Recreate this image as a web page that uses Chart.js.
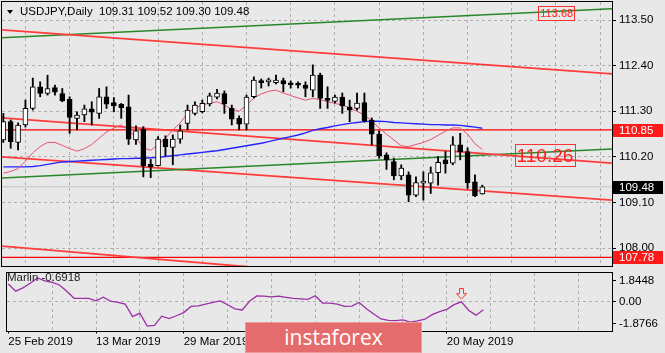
<!DOCTYPE html>
<html>
<head>
<meta charset="utf-8">
<script src="https://cdn.jsdelivr.net/npm/chart.js@4.4.0/dist/chart.umd.min.js"></script>
<style>
  body { margin: 0; background: #e8e8e8; width: 665px; height: 353px; overflow: hidden; position: relative;
         font-family: "Liberation Sans", Arial, sans-serif; }
  canvas { position: absolute; left: 0; }
  #main { top: 0; }
  #marlin { top: 266px; }
  #tri { position: absolute; left: 7px; top: 10px; width: 0; height: 0;
         border-left: 3.5px solid transparent; border-right: 3.5px solid transparent; border-top: 4px solid #000; }
  #title { position: absolute; left: 20px; top: 5px; font-size: 11.5px; color: #000; white-space: pre; }
  #mlabel { position: absolute; left: 7px; top: 271px; font-size: 11.5px; color: #222; white-space: pre; }
  #logo { position: absolute; left: 245px; top: 322px; width: 177px; height: 31px; box-sizing: border-box;
          background: #e46c6c; border: 1px solid #ee9a9a; color: #fff; text-align: center;
          font: 21px "Open Sans", sans-serif; line-height: 28px; }
</style>
</head>
<body>
<canvas id="main" width="665" height="268"></canvas>
<canvas id="marlin" width="665" height="87"></canvas>
<div id="tri"></div>
<div id="title">USDJPY,Daily  109.31 109.52 109.30 109.48</div>
<div id="mlabel">Marlin -0.6918</div>
<div id="logo">instaforex</div>
<script>
// daily bars, 25 Feb 2019 .. 27 May 2019
const days = [
  "25 Feb 2019","26 Feb 2019","27 Feb 2019","28 Feb 2019",
  "1 Mar 2019","4 Mar 2019","5 Mar 2019","6 Mar 2019","7 Mar 2019","8 Mar 2019","11 Mar 2019","12 Mar 2019",
  "13 Mar 2019","14 Mar 2019","15 Mar 2019","18 Mar 2019","19 Mar 2019","20 Mar 2019","21 Mar 2019","22 Mar 2019",
  "25 Mar 2019","26 Mar 2019","27 Mar 2019","28 Mar 2019","29 Mar 2019",
  "1 Apr 2019","2 Apr 2019","3 Apr 2019","4 Apr 2019","5 Apr 2019","8 Apr 2019","9 Apr 2019","10 Apr 2019",
  "11 Apr 2019","12 Apr 2019","15 Apr 2019","16 Apr 2019","17 Apr 2019","18 Apr 2019","19 Apr 2019","22 Apr 2019",
  "23 Apr 2019","24 Apr 2019","25 Apr 2019","26 Apr 2019","29 Apr 2019","30 Apr 2019",
  "1 May 2019","2 May 2019","3 May 2019","6 May 2019","7 May 2019","8 May 2019","9 May 2019","10 May 2019",
  "13 May 2019","14 May 2019","15 May 2019","16 May 2019","17 May 2019","20 May 2019","21 May 2019","22 May 2019",
  "23 May 2019","24 May 2019","27 May 2019"
];

const open = [110.61,111.05,110.55,110.97,111.37,111.89,111.73,111.87,111.73,111.59,111.13,111.21,111.36,111.25,111.65,111.51,
  111.47,111.41,110.61,110.87,110.02,109.99,110.63,110.43,110.63,111.01,111.25,111.29,111.48,111.64,111.73,111.37,
  111.13,110.99,111.65,112.00,112.01,111.99,112.04,111.95,111.94,111.93,111.81,112.17,111.61,111.54,111.64,111.41,
  111.37,111.51,111.09,110.75,110.25,110.09,109.74,109.77,109.28,109.57,109.57,109.82,110.13,110.05,110.49,110.33,
  109.60,109.31];
const high = [111.25,111.09,111.02,111.57,112.10,112.01,112.17,111.93,111.85,111.65,111.29,111.45,111.53,111.85,111.89,111.63,
  111.49,111.69,110.95,110.93,110.14,110.69,110.71,110.73,110.97,111.45,111.53,111.57,111.74,111.83,111.79,111.45,
  111.19,111.69,112.13,112.08,112.10,112.17,112.10,112.03,112.01,112.01,112.42,112.22,111.89,111.69,111.74,111.57,
  111.74,111.74,111.14,110.83,110.30,110.17,110.01,109.84,109.72,109.84,109.96,110.21,110.33,110.69,110.77,110.42,
  109.77,109.52];
const low = [110.55,110.41,110.37,110.92,111.33,111.65,111.69,111.69,111.53,110.77,110.85,111.05,110.97,111.13,111.37,111.29,
  111.13,110.50,110.50,109.72,109.70,109.98,110.23,110.01,110.53,110.85,111.21,111.26,111.43,111.60,111.25,110.97,
  110.85,110.85,111.62,111.86,111.91,111.96,111.77,111.86,111.86,111.65,111.65,111.37,111.37,111.50,111.25,111.05,
  111.33,111.04,110.49,110.17,109.90,109.65,109.65,109.12,109.24,109.16,109.32,109.52,109.81,110.01,110.13,109.44,
  109.24,109.30];
const close = [111.05,110.57,110.97,111.37,111.89,111.73,111.85,111.76,111.55,111.15,111.21,111.36,111.28,111.65,111.47,111.43,
  111.39,110.63,110.83,109.99,109.96,110.63,110.45,110.63,110.83,111.33,111.45,111.49,111.67,111.74,111.48,111.11,
  110.99,111.64,112.05,111.99,112.02,112.05,111.96,111.94,111.93,111.85,112.17,111.61,111.56,111.64,111.43,111.33,
  111.50,111.07,110.75,110.23,110.13,109.74,109.93,109.28,109.58,109.59,109.82,110.07,110.03,110.49,110.33,109.58,
  109.26,109.48];

// moving averages
const maFast = [109.81,109.85,109.92,110.10,110.30,110.45,110.55,110.55,110.48,110.40,110.34,110.40,110.50,110.65,110.80,110.90,
  110.97,110.85,110.66,110.42,110.36,110.50,110.65,110.85,111.02,111.25,111.38,111.45,111.50,111.53,111.45,111.35,
  111.30,111.45,111.62,111.72,111.78,111.81,111.74,111.68,111.62,111.57,111.61,111.58,111.53,111.49,111.45,111.38,
  111.30,111.21,111.07,110.90,110.75,110.61,110.47,110.45,110.50,110.55,110.62,110.72,110.82,110.90,110.90,110.75,
  110.52,110.38];
const maSlow = [109.96,109.96,109.96,109.96,109.97,109.99,110.02,110.05,110.08,110.09,110.10,110.11,110.12,110.13,110.14,110.15,
  110.16,110.16,110.17,110.17,110.18,110.19,110.21,110.23,110.25,110.27,110.29,110.31,110.33,110.35,110.38,110.41,
  110.44,110.47,110.50,110.53,110.57,110.61,110.65,110.69,110.73,110.78,110.84,110.88,110.91,110.95,110.98,111.01,
  111.03,111.05,111.06,111.06,111.05,111.03,111.02,111.01,111.00,110.99,110.98,110.98,110.97,110.97,110.96,110.94,
  110.92,110.89];

const marlin = [1.53,0.92,1.2,1.6,2.05,1.8,1.68,1.45,0.9,0.3,0.29,0.29,0.08,0.40,0.05,-0.05,
  -0.2,-1.28,-0.98,-2.09,-2.03,-1.24,-1.45,-1.2,-0.93,-0.4,-0.35,-0.2,-0.05,0.08,-0.25,-0.6,
  -0.7,0.05,0.5,0.48,0.42,0.48,0.38,0.29,0.25,0.21,0.52,-0.11,-0.11,-0.2,-0.4,-0.37,
  -0.06,-0.6,-1.05,-1.48,-1.6,-1.62,-1.56,-1.75,-1.65,-1.5,-1.1,-0.85,-0.65,-0.25,0.0,-0.75,
  -1.15,-0.69];
const marlinSignal = [{ x: 62, y: 0.66 }];

// axis ticks
const priceTicks = [113.50, 112.40, 111.30, 110.20, 109.10, 108.00];
const marlinTicks = [1.8448, 0, -1.8766];
const barTicks = [0, 6, 12, 18, 24, 30, 36, 42, 48, 54, 60, 66, 72, 78];

// drawn objects: price at left edge and right edge of the window
const xSpan = [-0.18, 82.6];
const redUpper = [113.26, 112.20];
const greenUpper = [113.07, 113.77];
const redMiddle = [111.14, 110.05];
const greenMiddle = [109.69, 110.39];
const redLower = [110.20, 109.16];
const redBottom = [108.05, 106.82];
const levels = [110.85, 107.78];
const bid = 109.48;
const boxLabels = [
  { x: 75.1, y: 113.68, text: "113.68", size: 11 },
  { x: 73.5, y: 110.235, text: "110.26", size: 19 }
];

Chart.defaults.font.family = '"Liberation Sans", Arial, sans-serif';
Chart.defaults.font.size = 11.5;
Chart.defaults.color = "#000";

const GRID = "#b0b0b0";
const NONE = "rgba(0,0,0,0)";

function span(vals) {
  return [{ x: xSpan[0], y: vals[0] }, { x: xSpan[1], y: vals[1] }];
}
function lineSet(vals, color, width, order) {
  return { type: "line", data: span(vals), borderColor: color, borderWidth: width,
           pointRadius: 0, clip: 0, order: order };
}
// keep the plot area fixed: no extra room for edge labels
function noPad(s) {
  s.paddingTop = 0; s.paddingBottom = 0; s.paddingLeft = 0; s.paddingRight = 0;
}

const frame = {
  id: "frame",
  afterDraw(chart) {
    const { ctx, chartArea: a } = chart;
    ctx.save();
    ctx.strokeStyle = "#000";
    ctx.lineWidth = 1;
    ctx.strokeRect(Math.round(a.left) - 0.5, Math.round(a.top) - 0.5,
                   Math.round(a.right - a.left) + 1, Math.round(a.bottom - a.top) + 1);
    ctx.restore();
  }
};

const labels = {
  id: "labels",
  afterDraw(chart) {
    const { ctx, chartArea: a, scales: { x, y } } = chart;
    ctx.save();
    // boxed level texts on the chart
    boxLabels.forEach(b => {
      ctx.font = b.size + 'px "Liberation Sans", Arial, sans-serif';
      const w = ctx.measureText(b.text).width;
      const px = x.getPixelForValue(b.x), py = y.getPixelForValue(b.y);
      const h = b.size + 3;
      ctx.strokeStyle = "#ff3030";
      ctx.lineWidth = 1;
      ctx.strokeRect(Math.round(px - w / 2 - 2) + 0.5, Math.round(py - h / 2) + 0.5, Math.round(w + 3), Math.round(h));
      ctx.fillStyle = "#ff2020";
      ctx.textAlign = "center";
      ctx.textBaseline = "middle";
      ctx.fillText(b.text, px, py + 1);
    });
    // price tags on the axis
    const tags = [[levels[0], "#ff1a1a"], [bid, "#000"], [levels[1], "#ff1a1a"]];
    ctx.font = '11.5px "Liberation Sans", Arial, sans-serif';
    ctx.textAlign = "left";
    ctx.textBaseline = "middle";
    tags.forEach(([v, bg]) => {
      const py = y.getPixelForValue(v);
      ctx.fillStyle = bg;
      ctx.fillRect(a.right + 1, Math.round(py) - 6, 50, 13);
      ctx.fillStyle = "#fff";
      ctx.fillText(v.toFixed(2), a.right + 7, Math.round(py) + 0.5);
    });
    ctx.restore();
  }
};

new Chart(document.getElementById("main"), {
  type: "bar",
  data: {
    datasets: [
      { data: days.map((d, i) => ({ x: i, y: [low[i], high[i]] })), backgroundColor: "#000",
        barThickness: 1.2, grouped: false, order: 1, minBarLength: 1 },
      { data: days.map((d, i) => ({ x: i, y: [open[i], close[i]] })),
        backgroundColor: close.map((c, i) => c >= open[i] ? "#fff" : "#000"),
        borderColor: "#000", borderWidth: 1, borderSkipped: false,
        barThickness: 5, grouped: false, order: 0, minBarLength: 2 },
      { type: "line", data: days.map((d, i) => ({ x: i, y: maFast[i] })), borderColor: "rgb(232,80,110)",
        borderWidth: 1, pointRadius: 0, order: 3 },
      { type: "line", data: days.map((d, i) => ({ x: i, y: maSlow[i] })), borderColor: "#2424ff",
        borderWidth: 1.4, pointRadius: 0, order: 3 },
      lineSet(redUpper, "#ff3c3c", 1.8, 4),
      lineSet(greenUpper, "rgb(40,135,40)", 1.5, 4),
      lineSet(redMiddle, "#ff3c3c", 1.8, 4),
      lineSet(greenMiddle, "rgb(40,135,40)", 1.5, 4),
      lineSet(redLower, "#ff3c3c", 1.8, 4),
      lineSet(redBottom, "#ff3c3c", 1.8, 4),
      lineSet([levels[0], levels[0]], "#ff0000", 1.3, 4),
      lineSet([levels[1], levels[1]], "#ff0000", 1.3, 4),
      lineSet([bid, bid], "#c4c4c4", 1, 5)
    ]
  },
  options: {
    responsive: false,
    animation: false,
    events: [],
    layout: { padding: { left: 2, top: 2, right: 0, bottom: 2 } },
    plugins: { legend: { display: false }, tooltip: { enabled: false } },
    scales: {
      x: {
        type: "linear", min: xSpan[0], max: xSpan[1], offset: false,
        afterBuildTicks: s => { s.ticks = barTicks.map(v => ({ value: v })); },
        afterFit: s => { s.height = 0; noPad(s); },
        ticks: { display: false },
        grid: { drawTicks: false, color: c => c.tick && c.tick.value === 0 ? NONE : GRID },
        border: { display: false, dash: [3, 3] }
      },
      y: {
        position: "right", min: 107.572, max: 113.934,
        afterBuildTicks: s => { s.ticks = priceTicks.map(v => ({ value: v })); },
        afterFit: s => { s.width = 53; noPad(s); },
        ticks: { padding: 3, callback: v => v.toFixed(2) },
        grid: { color: GRID, tickLength: 4, tickColor: "#000" },
        border: { display: false, dash: [3, 3] }
      }
    }
  },
  plugins: [frame, labels]
});

// hollow signal arrow
const arrow = document.createElement("canvas");
arrow.width = 11; arrow.height = 12;
const ac = arrow.getContext("2d");
ac.strokeStyle = "#ff3030";
ac.lineWidth = 1;
ac.beginPath();
ac.moveTo(3.5, 0.5); ac.lineTo(7.5, 0.5); ac.lineTo(7.5, 5.5); ac.lineTo(10.5, 5.5);
ac.lineTo(5.5, 11); ac.lineTo(0.5, 5.5); ac.lineTo(3.5, 5.5); ac.closePath();
ac.stroke();

const labelled = v => v % 12 === 0 && v <= 60;

new Chart(document.getElementById("marlin"), {
  type: "line",
  data: {
    datasets: [
      { data: days.map((d, i) => ({ x: i, y: marlin[i] })), borderColor: "#9c2fa8",
        borderWidth: 1.3, pointRadius: 0, clip: 0 },
      { type: "scatter", data: marlinSignal, pointStyle: arrow, pointRadius: 6 }
    ]
  },
  options: {
    responsive: false,
    animation: false,
    events: [],
    layout: { padding: { left: 2, top: 2, right: 0, bottom: 0 } },
    plugins: { legend: { display: false }, tooltip: { enabled: false } },
    scales: {
      x: {
        type: "linear", min: xSpan[0], max: xSpan[1], offset: false,
        afterBuildTicks: s => { s.ticks = barTicks.map(v => ({ value: v })); },
        afterFit: s => { s.height = 22.5; noPad(s); },
        ticks: { autoSkip: false, maxRotation: 0, align: "start", padding: 1,
                 callback: v => labelled(v) ? days[v] : "" },
        grid: { tickLength: 3, color: c => c.tick && c.tick.value === 0 ? NONE : GRID,
                tickColor: c => c.tick && labelled(c.tick.value) ? "#000" : NONE },
        border: { display: false, dash: [3, 3] }
      },
      y: {
        position: "right", min: -2.470, max: 2.478,
        afterBuildTicks: s => { s.ticks = marlinTicks.map(v => ({ value: v })); },
        afterFit: s => { s.width = 53; noPad(s); },
        ticks: { padding: 3, callback: v => v === 0 ? "0.00" : v.toFixed(4) },
        grid: { tickLength: 4, tickColor: "#000", color: c => c.tick && c.tick.value === 0 ? GRID : NONE },
        border: { display: false, dash: [3, 3] }
      }
    }
  },
  plugins: [frame]
});
</script>
</body>
</html>
